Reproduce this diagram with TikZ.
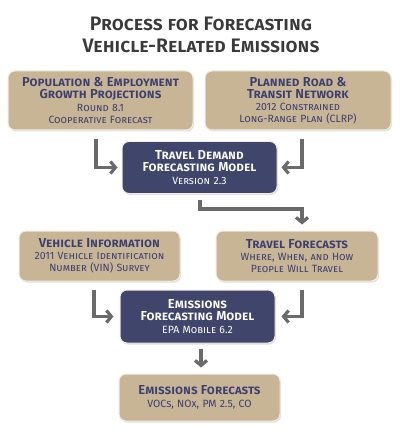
\documentclass[tikz,border=0pt]{standalone}
\usepackage{fontspec}
\setmainfont{Fira Sans}[BoldFont={Fira Sans SemiBold}]
\usepackage{tikz}
\usetikzlibrary{arrows.meta, positioning, shadows}

\definecolor{boxtan}{HTML}{C8B596}
\definecolor{boxedge}{HTML}{F1ECE2}
\definecolor{modelnavy}{HTML}{40456B}
\definecolor{headnavy}{HTML}{3B3F70}
\definecolor{flowgray}{HTML}{6A6A6A}
\definecolor{titlegray}{HTML}{3A3A3A}

\newcommand{\boxhead}{\fontsize{13}{14}\selectfont\bfseries\scshape}
\newcommand{\boxsub}{\fontsize{10.5}{11.5}\selectfont\scshape}

\begin{document}
\begin{tikzpicture}[
			x=1pt, y=-1pt,
			title/.style={align=center, text=titlegray, font=\fontsize{19.5}{22}\selectfont\bfseries\scshape},
			inbox/.style={rectangle, rounded corners=7pt, draw=boxedge, line width=1pt, fill=boxtan,
				text=headnavy, align=center, inner sep=0pt,
				drop shadow={opacity=0.25, shadow xshift=1pt, shadow yshift=-1.5pt}},
			model/.style={inbox, fill=modelnavy, text=white},
			flow/.style={-{Straight Barb[length=5pt, width=12pt]}, line width=3.2pt, draw=flowgray}
			]
			\useasboundingbox (0,0) rectangle (400,430);
			\node[title] (title) at (201,35) {Process for Forecasting\\Vehicle-Related Emissions};

			\node[inbox, text width=185pt, minimum height=59pt] (pop) at (100.5,100.5)
				{{\boxhead Population \& Employment\\Growth Projections}\\[1pt]{\boxsub Round 8.1\\Cooperative Forecast}};
			\node[inbox, text width=186pt, minimum height=59pt, right=11pt of pop] (plan)
				{{\boxhead Planned Road \&\\Transit Network}\\[1pt]{\boxsub 2012 Constrained\\Long-Range Plan (CLRP)}};
			\node[model, text width=155pt, minimum height=52pt] (demand) at (199.5,167.5)
				{{\boxhead Travel Demand\\Forecasting Model}\\[1pt]{\boxsub Version 2.3}};

			\node[inbox, text width=161pt, minimum height=50pt] (vehinfo) at (99.5,256)
				{{\boxhead Vehicle Information}\\[1pt]{\boxsub 2011 Vehicle Identification\\Number (VIN) Survey}};
			\node[inbox, text width=162pt, minimum height=50pt] (travfc) at (297,256)
				{{\boxhead Travel Forecasts}\\[1pt]{\boxsub Where, When, and How\\People Will Travel}};
			\node[model, text width=155pt, minimum height=53pt] (emmodel) at (197.5,316.5)
				{{\boxhead Emissions\\Forecasting Model}\\[1pt]{\boxsub EPA Mobile 6.2}};
			\node[inbox, text width=161pt, minimum height=47pt, below=30pt of emmodel, xshift=2pt] (emfc)
				{{\boxhead Emissions Forecasts}\\[1pt]{\boxsub VOCs, NOx, PM 2.5, CO}};

			\draw[flow] ([xshift=-4.5pt, yshift=-9pt]pop.south) |- ([xshift=-4pt]demand.west);
			\draw[flow] ([xshift=4pt, yshift=-9pt]plan.south) |- ([xshift=4pt]demand.east);
			\draw[flow] ([xshift=0.5pt, yshift=-6pt]demand.south) -- ++(0,9) -| ([xshift=5pt, yshift=6pt]travfc.north);
			\draw[flow] ([xshift=-5.5pt, yshift=-8pt]vehinfo.south) |- ([xshift=-6pt]emmodel.west);
			\draw[flow] ([xshift=5pt, yshift=-8pt]travfc.south) |- ([xshift=6pt]emmodel.east);
			\draw[flow] ([xshift=3.5pt, yshift=-5pt]emmodel.south) -- ([xshift=1.5pt, yshift=6pt]emfc.north);
		\end{tikzpicture}
\end{document}
